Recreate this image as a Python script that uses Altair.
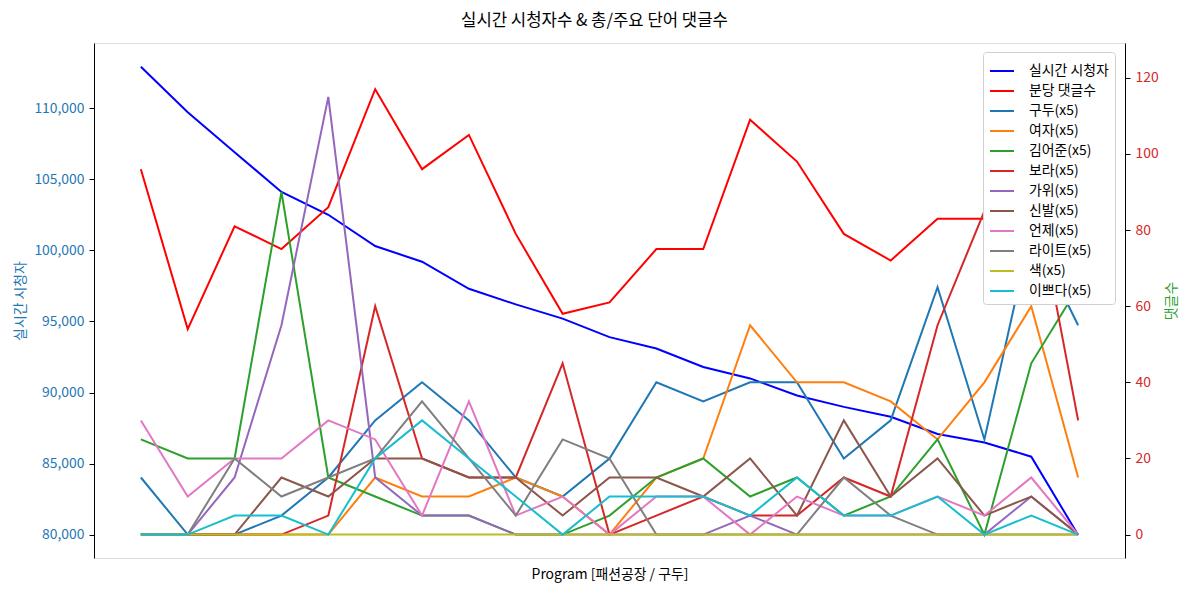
import altair as alt
import pandas as pd

idx = list(range(21))
viewers = [112900, 109700, 106900, 104100, 102500, 100300, 99200, 97300, 96200, 95200,
           93900, 93100, 91800, 91000, 89800, 89000, 88300, 87100, 86500, 85500, 80000]
comments = [96, 54, 81, 75, 86, 117, 96, 105, 79, 58, 61, 75, 75, 109, 98, 79, 72, 83, 83, 123, 87]

kw_names = ["구두(x5)", "여자(x5)", "김어준(x5)", "보라(x5)", "가위(x5)", "신발(x5)",
            "언제(x5)", "라이트(x5)", "색(x5)", "이쁘다(x5)"]
kw_gudu = [15, 0, 0, 5, 15, 30, 40, 30, 15, 10, 20, 40, 35, 40, 40, 20, 30, 65, 25, 80, 55]
kw_yeoja = [0, 0, 0, 0, 0, 15, 10, 10, 15, 10, 0, 15, 20, 55, 40, 40, 35, 25, 40, 60, 15]
kw_kim = [25, 20, 20, 90, 15, 10, 5, 5, 0, 0, 5, 15, 20, 10, 15, 5, 10, 25, 0, 45, 65]
kw_bora = [0, 0, 0, 0, 5, 60, 20, 15, 15, 45, 0, 5, 10, 5, 5, 15, 10, 55, 85, 95, 30]
kw_gawi = [0, 0, 15, 55, 115, 15, 5, 5, 0, 0, 0, 0, 0, 5, 0, 0, 0, 0, 0, 10, 0]
kw_sinbal = [0, 0, 0, 15, 10, 20, 20, 15, 15, 5, 15, 15, 10, 20, 5, 30, 10, 20, 5, 10, 0]
kw_eonje = [30, 10, 20, 20, 30, 25, 5, 35, 5, 10, 0, 10, 10, 0, 10, 5, 5, 10, 5, 15, 0]
kw_light = [0, 0, 20, 10, 15, 20, 35, 20, 5, 25, 20, 0, 0, 0, 0, 15, 5, 0, 0, 0, 0]
kw_saek = [0] * 21
kw_yeppeuda = [0, 0, 5, 5, 0, 20, 30, 20, 10, 0, 10, 10, 10, 5, 15, 5, 5, 10, 0, 5, 0]
kw_values = [kw_gudu, kw_yeoja, kw_kim, kw_bora, kw_gawi, kw_sinbal, kw_eonje, kw_light,
             kw_saek, kw_yeppeuda]

all_names = ["실시간 시청자", "분당 댓글수"] + kw_names
all_colors = ["#0000ff", "#ff0000", "#1f77b4", "#ff7f0e", "#2ca02c", "#d62728", "#9467bd",
              "#8c564b", "#e377c2", "#7f7f7f", "#bcbd22", "#17becf"]

FONT = "Noto Sans CJK KR"
FS = 13.9

color_scale = alt.Scale(domain=all_names, range=all_colors)
color_enc = alt.Color("s:N", scale=color_scale, sort=all_names,
                      legend=alt.Legend(title=None, orient="none", legendX=889, legendY=9,
                                        symbolType="stroke", symbolSize=576,
                                        symbolStrokeWidth=2, labelFontSize=FS,
                                        labelFont=FONT, rowPadding=0, padding=6,
                                        fillColor="white", strokeColor="#d0d0d0",
                                        cornerRadius=3, labelOffset=14))

x_enc = alt.X("i:Q", scale=alt.Scale(domain=[-1, 21], nice=False, zero=False),
              axis=alt.Axis(title="Program [패션공장 / 구두]", labels=False, ticks=False,
                            grid=False, domain=False, titleFont=FONT, titleFontSize=FS,
                            titleFontWeight="normal", titlePadding=9, titleColor="black"))

df_v = pd.DataFrame({"i": idx, "v": viewers, "s": "실시간 시청자"})
left = alt.Chart(df_v).mark_line(strokeWidth=2).encode(
    x=x_enc,
    y=alt.Y("v:Q", scale=alt.Scale(domain=[78380, 114570], nice=False, zero=False),
            axis=alt.Axis(title="실시간 시청자", orient="left", values=list(range(80000, 110001, 5000)),
                          labelExpr="format(datum.value, ',')", grid=False, tickSize=5,
                          labelPadding=5, labelColor="#1f77b4", titleColor="#1f77b4",
                          labelFontSize=FS, titleFontSize=FS, titleFontWeight="normal",
                          labelFont=FONT, titleFont=FONT, domainColor="black",
                          tickColor="black", titlePadding=6)),
    color=color_enc,
)

right_layers = []
series = [("분당 댓글수", comments)] + list(zip(kw_names, kw_values))
for name, vals in series:
    d = pd.DataFrame({"i": idx, "c": vals, "s": name})
    right_layers.append(
        alt.Chart(d).mark_line(strokeWidth=2).encode(
            x=x_enc,
            y=alt.Y("c:Q", scale=alt.Scale(domain=[-6.15, 129.15], nice=False, zero=False),
                    axis=alt.Axis(title="댓글수", orient="right", values=list(range(0, 121, 20)),
                                  grid=False, tickSize=5, labelPadding=5,
                                  labelColor="#d62728", titleColor="#2ca02c",
                                  labelFontSize=FS, titleFontSize=FS, titleFontWeight="normal",
                                  labelFont=FONT, titleFont=FONT, domainColor="black",
                                  tickColor="black", titlePadding=20, titleAngle=270)),
            color=color_enc,
        )
    )
right = alt.layer(*right_layers)

chart = alt.layer(left, right).resolve_scale(y="independent").properties(
    width=1031, height=515,
    title=alt.TitleParams("실시간 시청자수 & 총/주요 단어 댓글수", font=FONT, fontSize=16.7,
                          fontWeight="normal", color="black", dx=-15, offset=13),
    autosize=alt.AutoSizeParams(type="none"),
    padding={"left": 86, "top": 35, "right": 56, "bottom": 26},
).configure_view(stroke="black", strokeWidth=1).configure(background="white")

chart.save("out.html", embed_options={"renderer": "svg", "actions": False})
